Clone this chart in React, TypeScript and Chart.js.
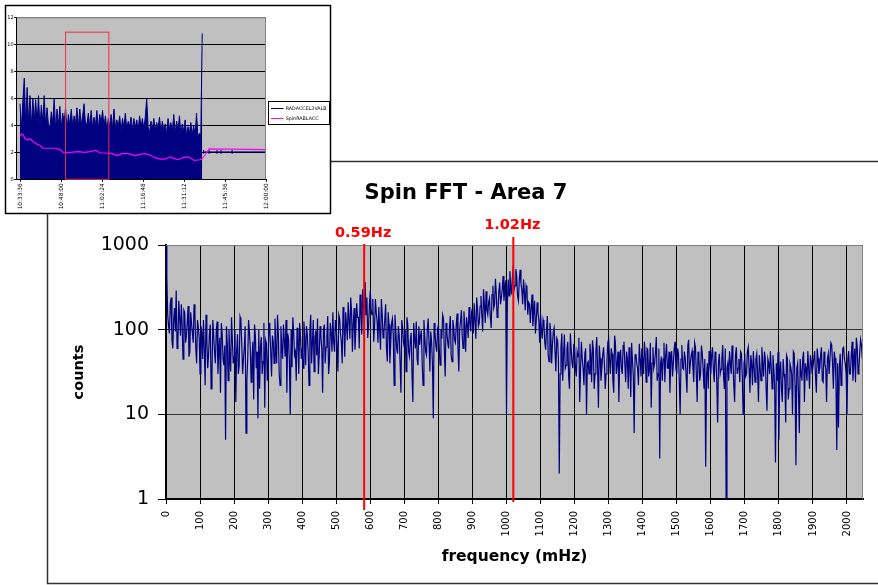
import React, { useEffect, useRef } from "react";
import { Chart, registerables } from "chart.js";

Chart.register(...registerables);

// ---------------- Main chart: Spin FFT - Area 7 ----------------
const chartTitle = "Spin FFT - Area 7";
const xAxisTitle = "frequency (mHz)";
const yAxisTitle = "counts";
const fftStepMHz = 5;
// counts at 0, 5, 10, ... mHz
const fftCounts = [
  1000, 150, 90, 240, 60, 180, 290, 70, 140, 200, 45, 160, 85, 190, 55, 120, 70, 150, 40, 105,
  30, 95, 130, 22, 75, 50, 115, 28, 85, 40, 125, 55, 18, 90, 38, 5, 68, 100, 32, 72,
  48, 14, 88, 38, 125, 30, 62, 6, 45, 95, 24, 72, 115, 35, 9, 20, 82, 42, 12, 68,
  45, 98, 28, 72, 135, 40, 88, 22, 62, 115, 48, 18, 78, 10, 36, 92, 55, 105, 30, 82,
  60, 125, 38, 88, 22, 150, 70, 32, 98, 135, 50, 82, 18, 115, 62, 145, 42, 92, 160, 55,
  105, 32, 135, 72, 185, 48, 115, 210, 78, 165, 120, 58, 205, 140, 260, 88, 190, 365, 240, 115,
  290, 150, 72, 230, 125, 185, 58, 150, 92, 200, 42, 115, 70, 135, 22, 95, 52, 85, 18, 105,
  62, 32, 115, 48, 92, 14, 78, 125, 38, 66, 98, 22, 82, 50, 135, 32, 72, 9, 92, 55,
  115, 38, 78, 135, 28, 92, 60, 145, 42, 105, 70, 155, 32, 125, 85, 165, 55, 115, 185, 95,
  145, 205, 78, 175, 120, 250, 95, 195, 285, 150, 235, 105, 330, 200, 265, 165, 360, 240, 430, 300,
  10, 390, 490, 260, 570, 330, 430, 220, 510, 300, 390, 170, 300, 210, 120, 260, 160, 90, 210, 130,
  155, 78, 115, 58, 145, 42, 92, 68, 105, 32, 75, 2, 62, 25, 88, 38, 72, 20, 58, 35,
  62, 28, 48, 14, 72, 35, 52, 10, 42, 68, 24, 58, 30, 82, 12, 46, 35, 62, 20, 42,
  78, 30, 52, 18, 68, 40, 14, 58, 30, 72, 24, 46, 62, 16, 42, 6, 52, 35, 68, 28,
  46, 72, 24, 58, 35, 12, 62, 40, 82, 30, 3, 48, 45, 24, 68, 35, 18, 56, 40, 72,
  30, 52, 10, 66, 34, 46, 18, 76, 40, 56, 24, 62, 14, 46, 30, 52, 20, 2.4, 40, 56,
  30, 62, 24, 46, 8, 52, 34, 66, 20, 1, 40, 56, 30, 46, 14, 62, 35, 24, 52, 10,
  46, 30, 62, 18, 40, 56, 24, 52, 14, 35, 62, 28, 46, 11, 40, 56, 20, 35, 2.7, 25,
  5, 42, 14, 30, 8, 46, 20, 36, 10, 52, 2.5, 40, 6, 30, 46, 14, 35, 56, 20, 42,
  30, 56, 18, 46, 35, 62, 24, 40, 14, 52, 30, 66, 20, 46, 3.8, 7, 52, 30, 62, 40,
  10, 56, 30, 72, 40, 24, 62, 35, 76, 45,
];
// counts at 2.5, 7.5, 12.5, ... mHz
const fftCountsMid = [
  420, 110, 200, 75, 130, 95, 60, 220, 85, 110, 170, 70, 125, 48, 160, 90, 200, 60, 130, 80,
  110, 45, 60, 150, 35, 90, 20, 130, 55, 95, 30, 80, 120, 45, 65, 110, 25, 50, 140, 40,
  100, 55, 30, 140, 70, 45, 110, 25, 130, 60, 45, 15, 85, 55, 100, 65, 30, 120, 75, 25,
  120, 55, 85, 40, 60, 150, 30, 110, 45, 75, 130, 90, 40, 100, 140, 50, 25, 80, 120, 45,
  35, 80, 110, 55, 95, 40, 130, 80, 50, 30, 110, 60, 100, 40, 85, 30, 120, 55, 70, 130,
  60, 150, 90, 40, 120, 160, 75, 130, 240, 55, 180, 100, 140, 60, 170, 300, 110, 150, 80, 200,
  170, 230, 110, 160, 70, 100, 230, 80, 130, 60, 160, 40, 120, 85, 150, 60, 110, 40, 130, 70,
  100, 140, 55, 75, 30, 120, 60, 45, 110, 85, 40, 130, 55, 100, 70, 95, 40, 120, 65, 100,
  60, 100, 150, 55, 120, 70, 105, 50, 130, 75, 115, 60, 100, 170, 60, 110, 140, 80, 120, 160,
  90, 130, 240, 110, 190, 150, 300, 120, 170, 210, 140, 260, 180, 400, 140, 280, 200, 300, 220, 380,
  200, 250, 330, 420, 300, 520, 250, 380, 350, 200, 280, 330, 150, 200, 180, 110, 220, 130, 160, 70,
  100, 130, 70, 100, 50, 120, 40, 95, 55, 80, 45, 30, 90, 50, 35, 60, 28, 90, 40, 65,
  35, 55, 80, 35, 45, 22, 60, 40, 30, 50, 75, 20, 55, 35, 65, 25, 50, 40, 30, 70,
  45, 60, 25, 85, 30, 55, 45, 35, 65, 40, 55, 20, 35, 70, 28, 50, 40, 22, 45, 60,
  30, 50, 60, 28, 70, 40, 35, 55, 25, 60, 40, 25, 70, 50, 35, 55, 45, 28, 60, 35,
  60, 25, 45, 35, 55, 28, 65, 30, 50, 35, 70, 30, 55, 25, 65, 35, 45, 30, 20, 40,
  50, 35, 55, 25, 40, 30, 45, 28, 60, 35, 25, 40, 65, 22, 50, 30, 45, 55, 28, 40,
  28, 55, 35, 50, 22, 35, 45, 30, 50, 25, 40, 55, 20, 45, 30, 35, 50, 22, 40, 55,
  30, 20, 45, 25, 50, 15, 40, 30, 55, 22, 35, 18, 45, 25, 55, 40, 25, 35, 50, 30,
  45, 28, 60, 30, 50, 25, 55, 35, 45, 30, 70, 40, 55, 25, 40, 35, 22, 60, 45, 30,
  45, 30, 50, 25, 60, 80, 30, 55, 65,
];
const xTickValues = [0, 100, 200, 300, 400, 500, 600, 700, 800, 900, 1000, 1100, 1200, 1300, 1400, 1500, 1600, 1700, 1800, 1900, 2000];
const xMax = 2047;
const yTickValues = [1, 10, 100, 1000];
const markerFreqs = [582, 1020];
const markerLabels = ["0.59Hz", "1.02Hz"];

// ---------------- Inset chart ----------------
const insetTickMinutes = [0, 14.4, 28.8, 43.2, 57.6, 72, 86.4];
const insetTickLabels = ["10:33:36", "10:48:00", "11:02:24", "11:16:48", "11:31:12", "11:45:36", "12:00:00"];
const insetYTicks = [0, 2, 4, 6, 8, 10, 12];
const legendNames = ["RADACCEL3VALB", "SpinRABLACC"];
const accelStepMin = 0.5;
const accelValues = [
  5.6, 3.8, 5.8, 7.5, 4.0, 6.8, 4.2, 6.2, 3.9, 6.0, 4.3, 5.9, 4.1, 6.2, 3.8, 5.5, 4.2, 6.2, 3.9, 5.3, 4.0,
  3.8, 5.0, 4.1, 6.0, 3.7, 5.2, 4.0, 5.4, 3.8, 4.9, 4.2, 5.3, 3.6, 4.8, 4.0, 5.2, 3.9, 4.7, 4.1, 5.3,
  3.8, 5.2, 4.0, 4.7, 5.6, 4.1, 4.1, 4.9, 3.9, 5.1, 3.8, 4.6, 4.0, 5.1, 3.7, 4.8, 4.2, 5.1, 3.9, 4.7,
  3.6, 4.5, 3.9, 4.8, 3.7, 5.2, 3.8, 4.4, 3.9, 4.7, 3.6, 4.5, 3.8, 4.9, 3.7, 4.3, 3.9, 4.6, 3.6, 4.5,
  3.8, 4.4, 3.6, 4.7, 3.9, 4.5, 3.7, 4.6, 6.0, 3.8, 3.5, 4.3, 3.7, 4.5, 3.6, 4.2, 3.8, 4.6, 3.5, 4.3,
  3.6, 4.1, 3.4, 4.5, 3.7, 4.2, 3.5, 4.8, 3.4, 4.3, 3.6, 4.7, 3.3, 4.1, 3.5, 4.4, 3.2, 3.9, 3.4, 4.2,
  3.3, 4.0, 3.2, 4.9, 3.1, 3.4, 3.3, 10.8,
];
const accelTailMinutes = [64.5, 66.4, 69.2, 70.6, 74.5, 86.4];
const accelTailValues = [2.03, 2.03, 2.03, 2.03, 2.03, 2.03];
const spinMinutes = [0, 0.5, 1.1, 1.8, 2.5, 3.5, 4.6, 6.0, 7.0, 8.1, 10.5, 12.3, 14.0, 15.5, 17.6, 20.4, 22.8, 24.6, 26.7, 28.1, 30.2, 32.3, 34.1, 35.8, 37.9, 40.4, 42.1, 43.9, 45.6, 47.4, 49.2, 50.9, 52.7, 54.1, 55.5, 57.3, 59.4, 61.1, 63.2, 63.9, 65.0, 66.4, 86.4];
const spinValues = [3.2, 3.35, 3.3, 3.0, 2.9, 3.0, 2.8, 2.6, 2.5, 2.3, 2.3, 2.3, 2.2, 1.95, 2.0, 2.05, 2.0, 2.05, 2.15, 1.95, 1.95, 1.9, 1.75, 1.9, 1.9, 1.75, 1.85, 1.9, 1.8, 1.6, 1.5, 1.5, 1.65, 1.55, 1.45, 1.6, 1.65, 1.4, 1.45, 1.5, 1.8, 2.25, 2.2];
const selectionWindow = [16.0, 31.2];
const selectionTop = 10.9;

const FONT = "'DejaVu Sans', sans-serif";

const mainDecor = {
  id: "mainDecor",
  beforeDraw(chart: any) {
    const { ctx, chartArea: a } = chart;
    ctx.save();
    ctx.fillStyle = "#ffffff";
    ctx.fillRect(0, 0, chart.width, chart.height);
    ctx.strokeStyle = "#333333";
    ctx.lineWidth = 1.5;
    ctx.strokeRect(47.5, 161.5, 900, 422);
    ctx.fillStyle = "#C0C0C0";
    ctx.fillRect(a.left, a.top, a.right - a.left, a.bottom - a.top);
    ctx.restore();
  },
  afterDatasetsDraw(chart: any) {
    const { ctx, chartArea: a, scales } = chart;
    ctx.save();
    ctx.strokeStyle = "#808080";
    ctx.lineWidth = 1;
    ctx.beginPath();
    ctx.moveTo(a.left, a.top + 0.5);
    ctx.lineTo(a.right - 0.5, a.top + 0.5);
    ctx.lineTo(a.right - 0.5, a.bottom);
    ctx.stroke();
    const tops = [-1, -8];
    const bottoms = [11, 3];
    const labelOffsets = [-8, -16];
    markerFreqs.forEach((f, i) => {
      const x = scales.x.getPixelForValue(f);
      ctx.strokeStyle = "#FF0000";
      ctx.lineWidth = 2;
      ctx.beginPath();
      ctx.moveTo(x, a.top + tops[i]);
      ctx.lineTo(x, a.bottom + bottoms[i]);
      ctx.stroke();
      ctx.fillStyle = "#FF0000";
      ctx.font = `bold 14.5px ${FONT}`;
      ctx.textAlign = "center";
      ctx.textBaseline = "alphabetic";
      ctx.fillText(markerLabels[i], x - 1, a.top + labelOffsets[i]);
    });
    ctx.restore();
  },
  afterDraw(chart: any) {
    const { ctx } = chart;
    ctx.save();
    ctx.fillStyle = "#000";
    ctx.textAlign = "center";
    ctx.textBaseline = "alphabetic";
    ctx.font = `bold 21px ${FONT}`;
    ctx.fillText(chartTitle, 466, 198.5);
    ctx.font = `bold 15.5px ${FONT}`;
    ctx.fillText(xAxisTitle, 514.5, 561);
    ctx.translate(83, 372);
    ctx.rotate(-Math.PI / 2);
    ctx.font = `bold 14.5px ${FONT}`;
    ctx.fillText(yAxisTitle, 0, 0);
    ctx.restore();
  },
};

const insetDecor = {
  id: "insetDecor",
  beforeDraw(chart: any) {
    const { ctx, chartArea: a } = chart;
    ctx.save();
    ctx.fillStyle = "#ffffff";
    ctx.fillRect(5, 5, 326, 209);
    ctx.strokeStyle = "#000";
    ctx.lineWidth = 1.5;
    ctx.strokeRect(5.5, 5.5, 325, 208);
    ctx.fillStyle = "#C0C0C0";
    ctx.fillRect(a.left, a.top, a.right - a.left, a.bottom - a.top);
    ctx.restore();
  },
  afterDatasetsDraw(chart: any) {
    const { ctx, chartArea: a, scales } = chart;
    ctx.save();
    ctx.strokeStyle = "#808080";
    ctx.lineWidth = 1;
    ctx.beginPath();
    ctx.moveTo(a.left, a.top + 0.5);
    ctx.lineTo(a.right - 0.5, a.top + 0.5);
    ctx.lineTo(a.right - 0.5, a.bottom);
    ctx.stroke();
    const x0 = scales.x.getPixelForValue(selectionWindow[0]);
    const x1 = scales.x.getPixelForValue(selectionWindow[1]);
    const y0 = scales.y.getPixelForValue(selectionTop);
    const y1 = scales.y.getPixelForValue(0);
    ctx.strokeStyle = "#E8304C";
    ctx.lineWidth = 1;
    ctx.strokeRect(x0, y0, x1 - x0, y1 - y0);
    ctx.fillStyle = "#fff";
    ctx.fillRect(268, 101, 61, 23);
    ctx.strokeStyle = "#000";
    ctx.strokeRect(268.5, 101.5, 61, 23);
    const colors = ["#000080", "#FF00FF"];
    const ys = [108.5, 118.5];
    legendNames.forEach((n, i) => {
      ctx.strokeStyle = colors[i];
      ctx.lineWidth = 1;
      ctx.beginPath();
      ctx.moveTo(271, ys[i]);
      ctx.lineTo(283.5, ys[i]);
      ctx.stroke();
      ctx.fillStyle = "#000";
      ctx.font = `4.8px ${FONT}`;
      ctx.textAlign = "left";
      ctx.textBaseline = "middle";
      ctx.fillText(n, 285.7, ys[i]);
    });
    ctx.restore();
  },
};

export default function App() {
  const mainRef = useRef<HTMLCanvasElement>(null);
  const insetRef = useRef<HTMLCanvasElement>(null);

  useEffect(() => {
    const fftData: { x: number; y: number }[] = [];
    fftCounts.forEach((v, i) => {
      fftData.push({ x: i * fftStepMHz, y: v });
      if (i < fftCountsMid.length) {
        fftData.push({ x: i * fftStepMHz + fftStepMHz / 2, y: fftCountsMid[i] });
      }
    });
    const main = new Chart(mainRef.current as HTMLCanvasElement, {
      type: "line",
      data: {
        datasets: [
          {
            data: fftData,
            borderColor: "#000080",
            borderWidth: 1.2,
            pointRadius: 0,
            tension: 0,
            fill: false,
          },
        ],
      },
      options: {
        responsive: false,
        animation: false,
        events: [],
        layout: { padding: { left: 0, top: 245, right: 15, bottom: 0 } },
        plugins: { legend: { display: false }, tooltip: { enabled: false }, title: { display: false } },
        scales: {
          x: {
            type: "linear",
            min: 0,
            max: xMax,
            afterBuildTicks: (s: any) => {
              s.ticks = xTickValues.map((v) => ({ value: v }));
            },
            afterFit: (s: any) => {
              s.height = 86;
            },
            ticks: {
              autoSkip: false,
              minRotation: 90,
              maxRotation: 90,
              padding: 7,
              color: "#000",
              font: { family: FONT, size: 10 },
              callback: (v: any) => String(v),
            },
            grid: { color: "#000", lineWidth: 1, tickLength: 5, tickColor: "#000" },
            border: { color: "#000", width: 2 },
          },
          y: {
            type: "logarithmic",
            min: 1,
            max: 1000,
            afterBuildTicks: (s: any) => {
              s.ticks = yTickValues.map((v) => ({ value: v }));
            },
            afterFit: (s: any) => {
              s.width = 166;
            },
            ticks: {
              padding: 9,
              color: "#000",
              font: { family: FONT, size: 19 },
              callback: (v: any) => String(v),
            },
            grid: { color: "#333", lineWidth: 1, tickLength: 8, tickColor: "#000" },
            border: { color: "#000", width: 2 },
          },
        },
      },
      plugins: [mainDecor],
    } as any);

    const accelData = accelValues.map((v, i) => ({ x: i * accelStepMin, y: v }));
    const tailData = accelTailMinutes.map((m, i) => ({ x: m, y: accelTailValues[i] }));
    const spinData = spinMinutes.map((m, i) => ({ x: m, y: spinValues[i] }));
    const inset = new Chart(insetRef.current as HTMLCanvasElement, {
      type: "line",
      data: {
        datasets: [
          {
            label: legendNames[1],
            data: spinData,
            borderColor: "#FF00FF",
            borderWidth: 1.2,
            pointRadius: 0,
            tension: 0,
            fill: false,
          },
          {
            label: legendNames[0] + " tail",
            data: tailData,
            borderColor: "#000080",
            backgroundColor: "#000080",
            borderWidth: 1,
            pointStyle: "line",
            rotation: 90,
            pointRadius: 2,
            pointBorderWidth: 1,
            tension: 0,
            fill: false,
          },
          {
            label: legendNames[0],
            data: accelData,
            borderColor: "#000080",
            backgroundColor: "#000080",
            borderWidth: 1,
            pointRadius: 0,
            tension: 0,
            fill: "origin",
          },
        ],
      },
      options: {
        responsive: false,
        animation: false,
        events: [],
        layout: { padding: { left: 0, top: 17.3, right: 67, bottom: 0 } },
        plugins: { legend: { display: false }, tooltip: { enabled: false }, title: { display: false } },
        scales: {
          x: {
            type: "linear",
            min: -1.16,
            max: 86.4,
            afterBuildTicks: (s: any) => {
              s.ticks = insetTickMinutes.map((v) => ({ value: v }));
            },
            afterFit: (s: any) => {
              s.height = 36.7;
            },
            ticks: {
              autoSkip: false,
              minRotation: 90,
              maxRotation: 90,
              padding: 1.5,
              color: "#000",
              font: { family: FONT, size: 5.8 },
              callback: (_v: any, i: number) => insetTickLabels[i],
            },
            grid: { drawOnChartArea: false, tickLength: 2.5, color: "#000" },
            border: { color: "#000", width: 1 },
          },
          y: {
            type: "linear",
            min: 0,
            max: 12,
            afterBuildTicks: (s: any) => {
              s.ticks = insetYTicks.map((v) => ({ value: v }));
            },
            afterFit: (s: any) => {
              s.width = 16.7;
            },
            ticks: {
              padding: 0.5,
              color: "#000",
              font: { family: FONT, size: 5 },
              callback: (v: any) => String(v),
            },
            grid: {
              color: (c: any) => (c.tick && c.tick.value === 12 ? "#808080" : "#000"),
              lineWidth: 1,
              tickLength: 2.5,
              tickColor: "#000",
            },
            border: { color: "#000", width: 1 },
          },
        },
      },
      plugins: [insetDecor],
    } as any);

    return () => {
      main.destroy();
      inset.destroy();
    };
  }, []);

  return (
    <div style={{ position: "absolute", left: 0, top: 0, width: 878, height: 585, background: "#fff" }}>
      <canvas ref={mainRef} width={878} height={585} style={{ position: "absolute", left: 0, top: 0 }} />
      <canvas ref={insetRef} width={333} height={216} style={{ position: "absolute", left: 0, top: 0 }} />
    </div>
  );
}
